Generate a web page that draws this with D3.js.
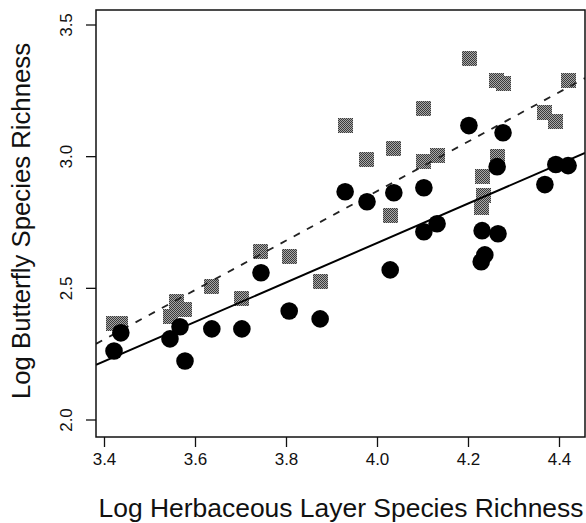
<!DOCTYPE html>
<html>
<head>
<meta charset="utf-8">
<script src="https://cdn.jsdelivr.net/npm/d3@7"></script>
<style>
  html, body { margin: 0; padding: 0; background: #fff; }
  svg { display: block; }
  text { font-family: "Liberation Sans", Arial, sans-serif; fill: #111; }
</style>
</head>
<body>
<script>
// ---- data ----
const xTicks = [3.4, 3.6, 3.8, 4.0, 4.2, 4.4];
const yTicks = [2.0, 2.5, 3.0, 3.5];
const xTitle = "Log Herbaceous Layer Species Richness";
const yTitle = "Log Butterfly Species Richness";

// grey squares (dashed fit)
const squareX = [3.420, 3.437, 3.560, 3.576, 3.547, 3.637, 3.703, 3.743, 3.807, 3.875,
                 3.930, 3.978, 4.029, 4.037, 4.103, 4.132, 4.103, 4.204, 4.262, 4.277,
                 4.420, 4.369, 4.393, 4.264, 4.231, 4.235, 4.229];
const squareY = [2.365, 2.365, 2.449, 2.418, 2.392, 2.506, 2.460, 2.639, 2.620, 2.525,
                 3.118, 2.989, 2.776, 3.030, 2.981, 3.004, 3.183, 3.373, 3.289, 3.278,
                 3.289, 3.167, 3.133, 3.000, 2.924, 2.852, 2.806];

// black circles (solid fit)
const circleX = [3.422, 3.437, 3.545, 3.567, 3.578, 3.637, 3.703, 3.745, 3.807, 3.875,
                 3.930, 3.978, 4.029, 4.037, 4.103, 4.103, 4.132, 4.202, 4.277, 4.264,
                 4.231, 4.266, 4.229, 4.237, 4.369, 4.393, 4.420];
const circleY = [2.262, 2.331, 2.308, 2.354, 2.224, 2.346, 2.346, 2.559, 2.414, 2.384,
                 2.867, 2.829, 2.570, 2.863, 2.882, 2.715, 2.745, 3.118, 3.091, 2.962,
                 2.719, 2.707, 2.601, 2.627, 2.894, 2.970, 2.966];

// fitted lines: [intercept, slope]
const circleFit = [-0.324, 0.749];
const squareFit = [-0.887, 0.939];

// ---- layout ----
const W = 586, H = 523;
const plot = { left: 96, right: 585, top: 10, bottom: 437 };

const x = d3.scaleLinear().domain([3.4, 4.4]).range([104, 559]);
const y = d3.scaleLinear().domain([2.0, 3.5]).range([420, 25]);

const svg = d3.select("body").append("svg").attr("width", W).attr("height", H);

const defs = svg.append("defs");
defs.append("clipPath").attr("id", "clip")
  .append("rect")
  .attr("x", plot.left).attr("y", plot.top)
  .attr("width", plot.right - plot.left).attr("height", plot.bottom - plot.top);

// dithered grey fill like the original print
const pat = defs.append("pattern").attr("id", "dither")
  .attr("patternUnits", "userSpaceOnUse").attr("width", 2).attr("height", 2);
pat.append("rect").attr("width", 2).attr("height", 2).attr("fill", "#a8a8a8");
pat.append("rect").attr("x", 0).attr("y", 0).attr("width", 1).attr("height", 1).attr("fill", "#3a3a3a");
pat.append("rect").attr("x", 1).attr("y", 1).attr("width", 1).attr("height", 1).attr("fill", "#3a3a3a");

const g = svg.append("g").attr("clip-path", "url(#clip)");

const x0 = x.invert(plot.left), x1 = x.invert(plot.right);
function fitLine(fit) {
  return [[x0, fit[0] + fit[1] * x0], [x1, fit[0] + fit[1] * x1]];
}
const line = d3.line().x(d => x(d[0])).y(d => y(d[1]));

// squares
const sq = 15;
g.selectAll("rect.sq").data(squareX.map((v, i) => [v, squareY[i]]))
  .enter().append("rect").attr("class", "sq")
  .attr("x", d => Math.round(x(d[0]) - sq / 2)).attr("y", d => Math.round(y(d[1]) - sq / 2))
  .attr("width", sq).attr("height", sq)
  .attr("fill", "url(#dither)");

// dashed line
g.append("path").datum(fitLine(squareFit)).attr("d", line)
  .attr("fill", "none").attr("stroke", "#222").attr("stroke-width", 1.8)
  .attr("stroke-dasharray", "7,8");

// circles
g.selectAll("circle.ci").data(circleX.map((v, i) => [v, circleY[i]]))
  .enter().append("circle").attr("class", "ci")
  .attr("cx", d => x(d[0])).attr("cy", d => y(d[1]))
  .attr("r", 8.8).attr("fill", "#000");

// solid line
g.append("path").datum(fitLine(circleFit)).attr("d", line)
  .attr("fill", "none").attr("stroke", "#000").attr("stroke-width", 2);

// frame
svg.append("rect")
  .attr("x", plot.left).attr("y", plot.top)
  .attr("width", plot.right - plot.left).attr("height", plot.bottom - plot.top)
  .attr("fill", "none").attr("stroke", "#111").attr("stroke-width", 1.5);

// x axis
const xAxis = d3.axisBottom(x).tickValues(xTicks).tickFormat(d3.format(".1f"))
  .tickSize(10).tickPadding(6);
const xg = svg.append("g").attr("transform", `translate(0,${plot.bottom})`).call(xAxis);
xg.select(".domain").remove();
xg.selectAll("line").attr("stroke", "#111").attr("stroke-width", 1.3);
xg.selectAll("text").attr("font-size", 17).attr("font-family", "Liberation Sans, Arial, sans-serif").attr("fill", "#111");

// y axis
const yAxis = d3.axisLeft(y).tickValues(yTicks).tickFormat(d3.format(".1f"))
  .tickSize(10).tickPadding(0);
const yg = svg.append("g").attr("transform", `translate(${plot.left},0)`).call(yAxis);
yg.select(".domain").remove();
yg.selectAll("line").attr("stroke", "#111").attr("stroke-width", 1.3);
yg.selectAll("text")
  .attr("font-size", 17).attr("font-family", "Liberation Sans, Arial, sans-serif").attr("fill", "#111")
  .attr("x", null).attr("dy", null)
  .attr("text-anchor", "middle")
  .attr("transform", d => `translate(-24,${y(d)}) rotate(-90)`)
  .attr("y", 0);
yg.selectAll(".tick").attr("transform", null);
yg.selectAll(".tick line").attr("transform", d => `translate(0,${y(d)})`);

// titles
svg.append("text").attr("x", 341).attr("y", 517)
  .attr("text-anchor", "middle").attr("font-size", 26)
  .attr("textLength", 485).attr("lengthAdjust", "spacingAndGlyphs").text(xTitle);
svg.append("text").attr("transform", `translate(30,221) rotate(-90)`)
  .attr("text-anchor", "middle").attr("font-size", 25)
  .attr("textLength", 356).attr("lengthAdjust", "spacingAndGlyphs").text(yTitle);
</script>
</body>
</html>
